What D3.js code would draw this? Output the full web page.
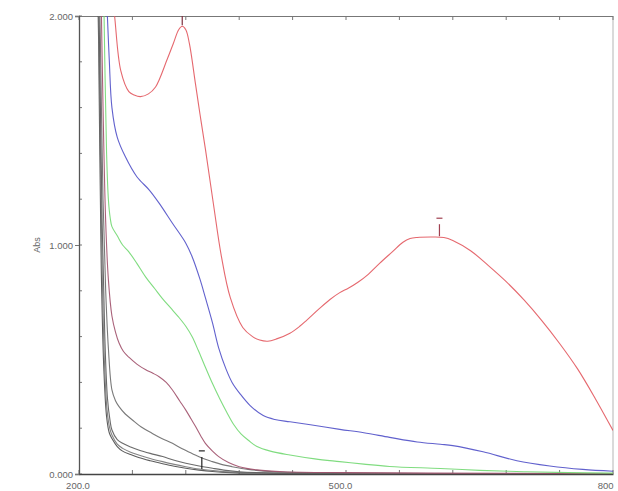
<!DOCTYPE html>
<html>
<head>
<meta charset="utf-8">
<script src="https://cdn.jsdelivr.net/npm/d3@7"></script>
<style>
  html, body { margin: 0; padding: 0; background: #fff; }
  svg { display: block; font-family: "Liberation Sans", Arial, sans-serif; }
</style>
</head>
<body>
<svg id="chart" width="618" height="491"></svg>
<script>
// UV-Vis absorbance spectra, wavelength (nm) vs absorbance
const redNm   = [236, 240, 247, 256, 262, 269, 278, 286, 299, 306, 312, 316, 320, 324, 331, 336, 342, 351, 360, 370, 384, 395, 403, 412, 422, 437, 448, 456, 470, 482, 493, 503, 513, 525, 538, 552, 564, 572, 580, 595, 610, 620, 640, 660, 680, 700, 720, 740, 760, 780, 800];
const redAbs  = [2.15, 2.0, 1.76, 1.67, 1.655, 1.648, 1.66, 1.69, 1.81, 1.88, 1.94, 1.955, 1.94, 1.88, 1.70, 1.57, 1.42, 1.18, 0.95, 0.77, 0.64, 0.60, 0.585, 0.58, 0.59, 0.615, 0.645, 0.672, 0.722, 0.762, 0.792, 0.812, 0.836, 0.872, 0.921, 0.97, 1.012, 1.028, 1.033, 1.035, 1.033, 1.02, 0.975, 0.91, 0.84, 0.76, 0.67, 0.57, 0.46, 0.33, 0.19];

const blueNm  = [229, 232, 234, 237, 243, 252, 265, 279, 290, 305, 320, 327, 336, 342, 350, 357, 365, 372, 381, 392, 407, 420, 437, 460, 493, 520, 549, 580, 606, 620, 654, 692, 729, 766, 800];
const blueAbs = [2.3, 1.99, 1.81, 1.60, 1.47, 1.386, 1.298, 1.24, 1.183, 1.095, 1.008, 0.95, 0.85, 0.77, 0.66, 0.55, 0.46, 0.40, 0.35, 0.30, 0.255, 0.238, 0.228, 0.215, 0.195, 0.18, 0.16, 0.14, 0.13, 0.124, 0.097, 0.058, 0.035, 0.02, 0.012];

const greenNm  = [227, 229, 231, 233, 235, 237, 243, 249, 256, 265, 275, 285, 294, 303, 312, 320, 327, 334, 340, 350, 358, 366, 374, 382, 391, 400, 415, 437, 465, 493, 520, 549, 606, 650, 700, 750, 800];
const greenAbs = [2.3, 1.8, 1.4, 1.2, 1.12, 1.08, 1.04, 1.0, 0.97, 0.92, 0.86, 0.81, 0.765, 0.725, 0.685, 0.645, 0.6, 0.54, 0.485, 0.395, 0.33, 0.27, 0.215, 0.175, 0.145, 0.12, 0.1, 0.083, 0.066, 0.054, 0.043, 0.033, 0.024, 0.016, 0.01, 0.006, 0.004];

const maroonNm  = [224, 227, 230, 233, 237, 241, 245, 250, 256, 265, 275, 283, 290, 298, 305, 313, 320, 326, 331, 337, 342, 350, 357, 368, 380, 400, 430, 500, 600, 800];
const maroonAbs = [2.3, 1.6, 1.1, 0.85, 0.69, 0.62, 0.572, 0.535, 0.51, 0.48, 0.455, 0.44, 0.425, 0.40, 0.367, 0.32, 0.279, 0.24, 0.207, 0.165, 0.134, 0.1, 0.076, 0.05, 0.032, 0.018, 0.01, 0.006, 0.004, 0.002];

const gray1Nm  = [222, 224, 227, 230, 233, 237, 241, 245, 252, 260, 270, 282, 293, 305, 316, 327, 338, 350, 360, 372, 390, 420, 500, 800];
const gray1Abs = [2.3, 1.9, 1.2, 0.8, 0.55, 0.367, 0.32, 0.294, 0.262, 0.236, 0.205, 0.178, 0.155, 0.134, 0.11, 0.09, 0.07, 0.054, 0.042, 0.032, 0.02, 0.01, 0.004, 0.0];

const gray2Nm  = [221, 223, 226, 229, 232, 235, 237, 243, 249, 258, 267, 280, 294, 307, 320, 335, 350, 365, 380, 420, 800];
const gray2Abs = [2.3, 1.9, 1.1, 0.6, 0.33, 0.23, 0.192, 0.15, 0.134, 0.118, 0.105, 0.09, 0.076, 0.06, 0.047, 0.035, 0.025, 0.016, 0.01, 0.004, 0.0];

const gray3Nm  = [220.5, 222.5, 225.5, 228.5, 231.5, 234.5, 237, 243, 249, 258, 267, 280, 294, 307, 320, 335, 350, 370, 400, 800];
const gray3Abs = [2.3, 1.9, 1.0, 0.5, 0.28, 0.2, 0.17, 0.13, 0.112, 0.095, 0.083, 0.068, 0.054, 0.042, 0.032, 0.022, 0.015, 0.008, 0.004, 0.0];

const gray4Nm  = [220, 222, 225, 228, 231, 234, 237, 243, 249, 258, 267, 280, 294, 307, 320, 335, 350, 370, 400, 800];
const gray4Abs = [2.3, 1.9, 0.9, 0.45, 0.25, 0.18, 0.155, 0.12, 0.1, 0.085, 0.072, 0.058, 0.045, 0.034, 0.025, 0.017, 0.011, 0.006, 0.003, 0.0];

// peak-pick marks: wavelength, absorbance at the mark
const peakNm  = [316, 605, 338];
const peakAbs = [1.955, 1.034, 0.018];

const xTickValues = [200, 500, 800];
const xTickLabels = ["200.0", "500.0", "800"];
const yTickValues = [0, 1, 2];
const yTickLabels = ["0.000", "1.000", "2.000"];
const yTitle = "Abs";

const series = [
  { nm: gray4Nm,  abs: gray4Abs,  color: "#4a4a4a" },
  { nm: gray3Nm,  abs: gray3Abs,  color: "#777777" },
  { nm: gray2Nm,  abs: gray2Abs,  color: "#5a5a5a" },
  { nm: gray1Nm,  abs: gray1Abs,  color: "#6a6a6a" },
  { nm: maroonNm, abs: maroonAbs, color: "#a0506a" },
  { nm: greenNm,  abs: greenAbs,  color: "#72d872" },
  { nm: blueNm,   abs: blueAbs,   color: "#5050c8" },
  { nm: redNm,    abs: redAbs,    color: "#e2585e" }
];
const peakColors = ["#803040", "#a04050", "#222222"];

const svg = d3.select("#chart");
const L = 79, T = 16, R = 613, B = 474;

const x = d3.scaleLinear().domain([200, 800]).range([L, R]);
const y = d3.scaleLinear().domain([0, 2]).range([B, T]);

svg.append("defs").append("clipPath").attr("id", "plotClip")
  .append("rect").attr("x", L).attr("y", T).attr("width", R - L).attr("height", B - T);

// frame
svg.append("line").attr("x1", R).attr("x2", R).attr("y1", T).attr("y2", B)
  .attr("stroke", "#b5b5b5").attr("stroke-width", 1);
svg.append("line").attr("x1", L).attr("x2", R).attr("y1", T + 0.5).attr("y2", T + 0.5)
  .attr("stroke", "#777").attr("stroke-width", 1.2);

// minor ticks (ten divisions per axis)
const xMinor = d3.range(200, 801, 60);
const yMinor = d3.range(0, 2.001, 0.2);
const ticksG = svg.append("g").attr("stroke", "#777").attr("stroke-width", 1);
xMinor.forEach(v => {
  ticksG.append("line").attr("x1", x(v)).attr("x2", x(v)).attr("y1", B).attr("y2", B - 4);
  ticksG.append("line").attr("x1", x(v)).attr("x2", x(v)).attr("y1", T).attr("y2", T + 4);
});
yMinor.forEach(v => {
  ticksG.append("line").attr("x1", L).attr("x2", L + 3).attr("y1", y(v)).attr("y2", y(v));
});

// axes
const xAxis = d3.axisBottom(x).tickValues(xTickValues)
  .tickFormat((d, i) => xTickLabels[i]).tickSize(0).tickPadding(8);
const gx = svg.append("g").attr("transform", `translate(0,${B})`).call(xAxis);
gx.select(".domain").attr("stroke", "#444").attr("stroke-width", 1.3);
gx.selectAll("text").attr("font-size", 9.5).attr("fill", "#666")
  .attr("dx", (d, i) => [-1.5, -6, -5][i])
  .attr("text-anchor", (d, i) => i === 2 ? "end" : "middle")
  .attr("transform", (d, i) => i === 2 ? "translate(5,0)" : null);

const yAxis = d3.axisLeft(y).tickValues(yTickValues)
  .tickFormat((d, i) => yTickLabels[i]).tickSize(4).tickPadding(2);
const gy = svg.append("g").attr("transform", `translate(${L},0)`).call(yAxis);
gy.select(".domain").attr("stroke", "#555").attr("stroke-width", 1.3);
gy.selectAll(".tick line").attr("stroke", "#777");
gy.selectAll("text").attr("font-size", 9.5).attr("fill", "#666");

svg.append("text")
  .attr("transform", `translate(37,${y(1)}) rotate(-90)`)
  .attr("text-anchor", "middle").attr("dy", "0.35em")
  .attr("font-size", 9).attr("fill", "#666").text(yTitle);

// spectra
const line = d3.line().x(d => x(d[0])).y(d => y(d[1])).curve(d3.curveCatmullRom.alpha(0.5));
const plot = svg.append("g").attr("clip-path", "url(#plotClip)");
series.forEach(s => {
  plot.append("path")
    .datum(s.nm.map((n, i) => [n, s.abs[i]]))
    .attr("fill", "none").attr("stroke", s.color)
    .attr("stroke-width", 1.1).attr("stroke-opacity", 0.9)
    .attr("d", line);
});

// peak marks
peakNm.forEach((n, i) => {
  const px = x(n), py = y(peakAbs[i]);
  plot.append("line").attr("x1", px - 3).attr("x2", px + 3)
    .attr("y1", py - 19).attr("y2", py - 19)
    .attr("stroke", peakColors[i]).attr("stroke-width", 1.2);
  plot.append("line").attr("x1", px).attr("x2", px)
    .attr("y1", py - 13).attr("y2", py - 1)
    .attr("stroke", peakColors[i]).attr("stroke-width", 1.2);
});
</script>
</body>
</html>
